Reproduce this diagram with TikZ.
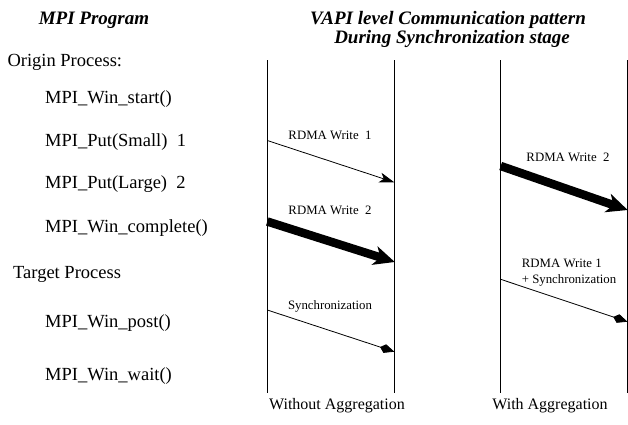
\documentclass[tikz,border=0pt]{standalone}
\usepackage{fontspec}
\setmainfont{Liberation Serif}
\usetikzlibrary{arrows.meta}

\tikzset{
  prog/.style={anchor=base west, inner sep=0pt, font=\fontsize{18.5}{22}\selectfont},
  head/.style={anchor=base, inner sep=0pt, font=\fontsize{19}{22}\selectfont\bfseries\itshape},
  lbl/.style={anchor=base, inner sep=0pt, font=\fontsize{12.8}{15}\selectfont},
  foot/.style={anchor=base, inner sep=0pt, font=\fontsize{16}{19}\selectfont},
  timeline/.style={line width=.8pt},
  smallmsg/.style={line width=.8pt, arrows={-Stealth[length=15pt,width=10pt,inset=4pt]}},
  largemsg/.style={line width=8.5pt, arrows={-Stealth[length=21pt,width=19pt,inset=6pt]}},
  syncmsg/.style={line width=.8pt, arrows={-Kite[length=15pt,width=9pt,inset=5pt]}}
}

\begin{document}
\begin{tikzpicture}[x=1pt,y=-1pt]
\useasboundingbox (0,0) rectangle (628,424);

% headings
\node[head] at (94,24) (hProg) {MPI Program};
\node[head] at (448,24.3) (hVapiA) {VAPI level Communication pattern};
\node[head] at (452,43) (hVapiB) {During Synchronization stage};

% MPI calls
\node[prog] at (7.3,66.7) (origin) {Origin Process:};
\node[prog] at (45,103) (start) {MPI\_Win\_start()};
\node[prog] at (45,146.5) (putS) {MPI\_Put(Small)\ \ 1};
\node[prog] at (45,188) (putL) {MPI\_Put(Large)\ \ 2};
\node[prog] at (45,232) (complete) {MPI\_Win\_complete()};
\node[prog] at (13,278) (target) {Target Process};
\node[prog] at (45,327) (post) {MPI\_Win\_post()};
\node[prog] at (45,380) (wait) {MPI\_Win\_wait()};

% time lines
\foreach \n/\x in {a/267.3, b/394.3, c/500.7, d/627.3} {
  \coordinate (\n top) at (\x,60);
  \coordinate (\n bot) at (\x,393);
  \draw[timeline] (\n top) -- (\n bot);
}

%without aggregation
\coordinate (wOneS) at (267.3,140.5);
\coordinate (wOneE) at (394.3,182.3);
\coordinate (wTwoS) at (267.3,221.5);
\coordinate (wTwoE) at (394.8,262);
\coordinate (wSyncS) at (267.3,310);
\coordinate (wSyncE) at (394.3,351.7);
\draw[smallmsg] (wOneS) -- (wOneE);
\draw[largemsg] (wTwoS) -- (wTwoE);
\draw[syncmsg] (wSyncS) -- (wSyncE);
\node[lbl] at (330,139.2) (wOneL) {RDMA Write\ \ 1};
\node[lbl] at (330,214.8) (wTwoL) {RDMA Write\ \ 2};
\node[lbl] at (330,309) (wSyncL) {Synchronization};

%with aggregation
\coordinate (aTwoS) at (500.7,166);
\coordinate (aTwoE) at (627.7,210);
\coordinate (aOneS) at (500.7,279.3);
\coordinate (aOneE) at (627.5,321.7);
\draw[largemsg] (aTwoS) -- (aTwoE);
\draw[syncmsg] (aOneS) -- (aOneE);
\node[lbl] at (568,161.5) (aTwoL) {RDMA Write\ \ 2};
\node[lbl, anchor=base west] at (521.7,267) (aOneL) {RDMA Write 1};
\node[lbl, anchor=base west] at (521.7,283.5) (aSyncL) {+ Synchronization};

% captions
\node[foot] at (337,409) (without) {Without Aggregation};
\node[foot] at (550,409) (with) {With Aggregation};
\end{tikzpicture}
\end{document}
